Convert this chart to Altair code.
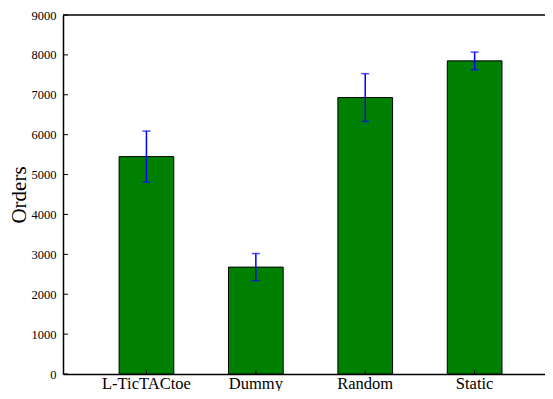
import altair as alt
import pandas as pd

categories = ["L-TicTACtoe", "Dummy", "Random", "Static"]
orders = [5450, 2680, 6930, 7850]
errors = [640, 340, 600, 220]
y_ticks = [0, 1000, 2000, 3000, 4000, 5000, 6000, 7000, 8000, 9000]

df = pd.DataFrame({"cat": categories, "orders": orders, "err": errors})
df["lo"] = df["orders"] - df["err"]
df["hi"] = df["orders"] + df["err"]
ticks_df = pd.DataFrame({"v": y_ticks})
top_df = pd.DataFrame({"v": [y_ticks[-1]]})

FONT = "Liberation Serif"
W, H = 482, 359

xscale = alt.Scale(domain=categories, paddingInner=0.5, paddingOuter=0.453, align=0.566)
yscale = alt.Scale(domain=[0, 9000], nice=False, zero=True)

x_axis = alt.Axis(title=None, labelAngle=0, labelFont=FONT, labelFontSize=16.5,
                  labelColor="black", ticks=False, labelPadding=1,
                  labelOverlap=False, labelFlush=False,
                  domain=True, domainColor="black", domainWidth=1.5)
y_axis = alt.Axis(title="Orders", values=y_ticks, format="d", labelFont=FONT,
                  labelFontSize=12.5, labelColor="black", ticks=False,
                  labelPadding=7, labelOverlap=False, labelFlush=False,
                  domain=True, domainColor="black",
                  domainWidth=1.5, grid=False,
                  titleFont=FONT, titleFontSize=21, titleFontWeight="normal",
                  titleColor="black", titlePadding=2)

def xc():
    return alt.X("cat:N", scale=xscale, sort=categories, axis=x_axis)

def yq(field):
    return alt.Y(field, scale=yscale, axis=y_axis)

base = alt.Chart(df)

bars = base.mark_bar(color="#008000", stroke="black", strokeWidth=1).encode(
    x=xc(), y=yq("orders:Q")
)

xticks = base.mark_rule(color="black", strokeWidth=1).encode(
    x=xc(), y=alt.value(H), y2=alt.value(H - 4)
)

yticks = alt.Chart(ticks_df).mark_rule(color="black", strokeWidth=1).encode(
    y=yq("v:Q"), x=alt.value(0), x2=alt.value(5)
)

top_line = alt.Chart(top_df).mark_rule(color="black", strokeWidth=1.5).encode(
    y=yq("v:Q"), x=alt.value(0), x2=alt.value(W)
)

err_line = base.mark_rule(color="#0000ff", strokeWidth=1.5).encode(
    x=xc(), y=yq("lo:Q"), y2="hi:Q"
)
cap_hi = base.mark_tick(color="#0000ff", size=8, thickness=1.5).encode(
    x=xc(), y=yq("hi:Q")
)
cap_lo = base.mark_tick(color="#0000ff", size=8, thickness=1.5).encode(
    x=xc(), y=yq("lo:Q")
)

chart = alt.layer(bars, xticks, yticks, top_line, err_line, cap_hi, cap_lo).properties(
    width=W, height=H,
    autosize=alt.AutoSizeParams(type="none"),
    padding={"left": 55, "top": 7, "right": 0, "bottom": 17},
    background="white",
).configure_view(stroke=None)

chart.save("out.html", embed_options={"renderer": "svg", "actions": False})
